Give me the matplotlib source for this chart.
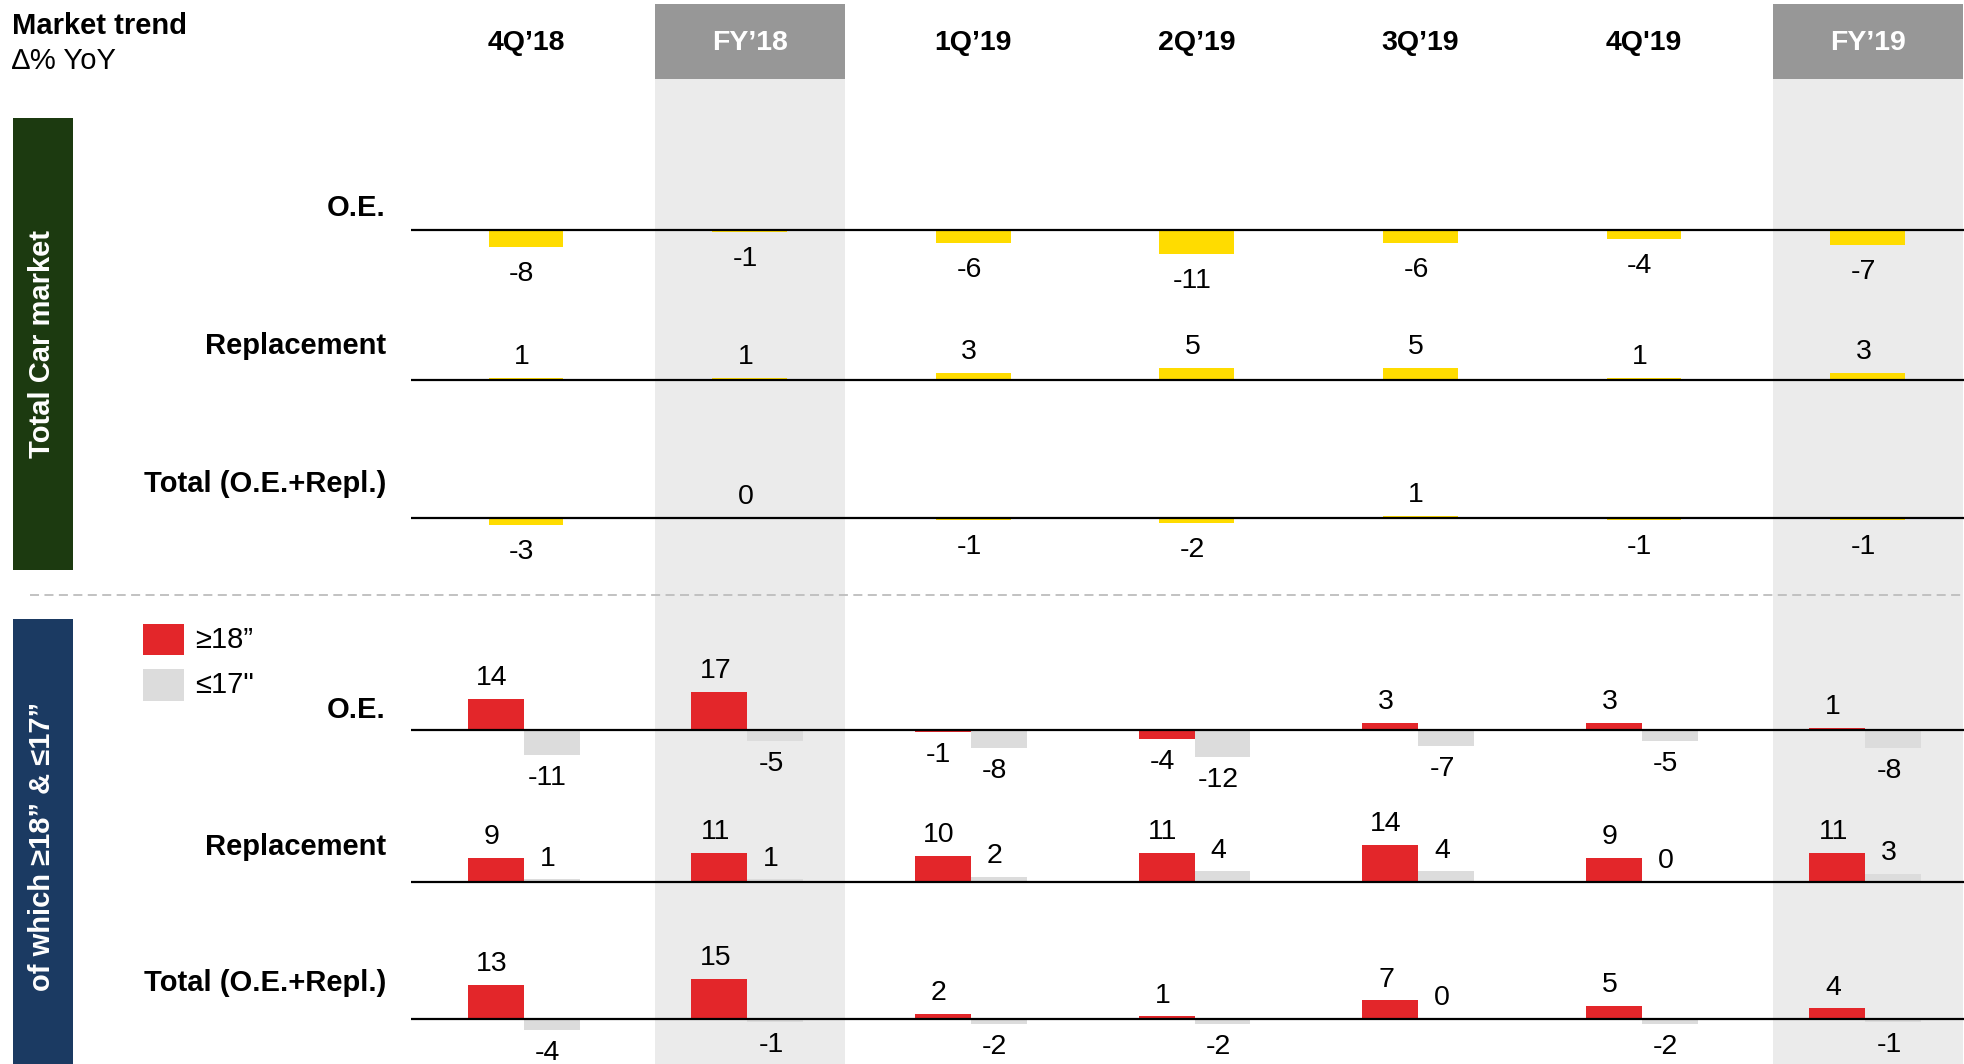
import matplotlib.pyplot as plt
from matplotlib.patches import Rectangle
from matplotlib.lines import Line2D

plt.rcParams['font.family'] = ['Liberation Sans', 'DejaVu Sans']

W, H = 1964, 1064

periods = ["4Q’18", "FY’18", "1Q’19", "2Q’19", "3Q’19", "4Q'19", "FY’19"]
full_year = [False, True, False, False, False, False, True]
row_names = ["O.E.", "Replacement", "Total (O.E.+Repl.)"]

# total car market, delta % YoY
car_oe = [-8, -1, -6, -11, -6, -4, -7]
car_repl = [1, 1, 3, 5, 5, 1, 3]
car_total = [-3, 0, -1, -2, 1, -1, -1]

# of which >=18" and <=17"
big_oe = [14, 17, -1, -4, 3, 3, 1]
small_oe = [-11, -5, -8, -12, -7, -5, -8]
big_repl = [9, 11, 10, 11, 14, 9, 11]
small_repl = [1, 1, 2, 4, 4, 0, 3]
big_total = [13, 15, 2, 1, 7, 5, 4]
small_total = [-4, -1, -2, -2, 0, -2, -1]

YELLOW = "#FFDC00"
RED = "#E3262A"
LGRAY = "#DCDCDC"
SHADE = "#EBEBEB"
HEAD = "#979797"
GREEN = "#1C3A10"
NAVY = "#1B3A62"

X0, DX = 526, 223.6          # pixel of first column, column spacing
XLIM = (-X0 / DX, (W - X0) / DX)
LINE_START = (411 - X0) / DX


def fx(px):
    return px / W


def fy(py):
    return 1 - py / H


fig = plt.figure(figsize=(W / 100, H / 100), dpi=100)

# background: shaded full-year columns and header
bg = fig.add_axes([0, 0, 1, 1])
bg.set_xlim(XLIM)
bg.set_ylim(H, 0)
bg.axis("off")
for i, p in enumerate(periods):
    if full_year[i]:
        bg.add_patch(Rectangle((i - 0.425, 79), 0.85, H - 79, color=SHADE, lw=0))
        bg.add_patch(Rectangle((i - 0.425, 4), 0.85, 75, color=HEAD, lw=0))
    bg.text(i, 43, p, ha="center", va="center", fontsize=20.5, fontweight="bold",
            color="white" if full_year[i] else "black")


def row_axes(base_px, scale, half=90):
    ax = fig.add_axes([0, fy(base_px + half), 1, 2 * half / H])
    ax.set_xlim(XLIM)
    ax.set_ylim(-half / scale, half / scale)
    ax.axis("off")
    ax.patch.set_visible(False)
    ax.plot([LINE_START, XLIM[1]], [0, 0], color="black", lw=1.6, zorder=3,
            solid_capstyle="butt")
    return ax


def label_bars(ax, xs, vals, neg_off=-16.5):
    for x, v in zip(xs, vals):
        off = 15 if v >= 0 else neg_off
        ax.annotate(str(v), (x, v), xytext=(-3, off), textcoords="offset points",
                    ha="center", va="center", fontsize=20.5)


idx = list(range(len(periods)))

# top block
top_rows = [(car_oe, 230, 2.15), (car_repl, 380, 2.5), (car_total, 518, 2.4)]
for vals, base, sc in top_rows:
    ax = row_axes(base, sc)
    ax.bar(idx, vals, width=0.335, color=YELLOW, lw=0, zorder=2)
    label_bars(ax, idx, vals, neg_off=-19.5)

# bottom block
bot_rows = [(big_oe, small_oe, 730, 2.25), (big_repl, small_repl, 882, 2.65),
            (big_total, small_total, 1019, 2.65)]
xr = [i - 0.135 for i in idx]
xg = [i + 0.115 for i in idx]
for big, small, base, sc in bot_rows:
    ax = row_axes(base, sc)
    ax.bar(xr, big, width=0.25, color=RED, lw=0, zorder=2)
    ax.bar(xg, small, width=0.25, color=LGRAY, lw=0, zorder=2)
    label_bars(ax, xr, big)
    label_bars(ax, xg, small)

# row labels
for name, y in zip(row_names, [208, 346, 484]):
    fig.text(fx(386), fy(y), name, ha="right", va="center", fontsize=21,
             fontweight="bold")
for name, y in zip(row_names, [710, 847, 983]):
    fig.text(fx(386), fy(y), name, ha="right", va="center", fontsize=21,
             fontweight="bold")

# title
fig.text(fx(12), fy(26), "Market trend", ha="left", va="center", fontsize=21,
         fontweight="bold")
fig.text(fx(12), fy(61), "∆% YoY", ha="left", va="center", fontsize=21)

# side boxes
fig.add_artist(Rectangle((fx(12.5), fy(570)), fx(60), (570 - 118) / H,
                         transform=fig.transFigure, color=GREEN, lw=0))
fig.text(fx(42.5), fy(344), "Total Car market", rotation=90, ha="center",
         va="center", color="white", fontsize=21, fontweight="bold")
fig.add_artist(Rectangle((fx(12.5), 0), fx(60), (H - 619) / H,
                         transform=fig.transFigure, color=NAVY, lw=0))
fig.text(fx(42.5), fy(846), "of which ≥18” & ≤17”", rotation=90, ha="center",
         va="center", color="white", fontsize=21, fontweight="bold")

# separator
fig.add_artist(Line2D([fx(30), 1], [fy(595), fy(595)], transform=fig.transFigure,
                      color="#BDBDBD", lw=1.3, dashes=(5, 3)))

# legend
fig.add_artist(Rectangle((fx(143), fy(655)), fx(41), 31 / H,
                         transform=fig.transFigure, color=RED, lw=0))
fig.add_artist(Rectangle((fx(143), fy(701)), fx(41), 32 / H,
                         transform=fig.transFigure, color=LGRAY, lw=0))
fig.text(fx(195), fy(640), "≥18”", ha="left", va="center", fontsize=21)
fig.text(fx(195), fy(685), "≤17\"", ha="left", va="center", fontsize=21)

fig.savefig("out.png", dpi=100)
